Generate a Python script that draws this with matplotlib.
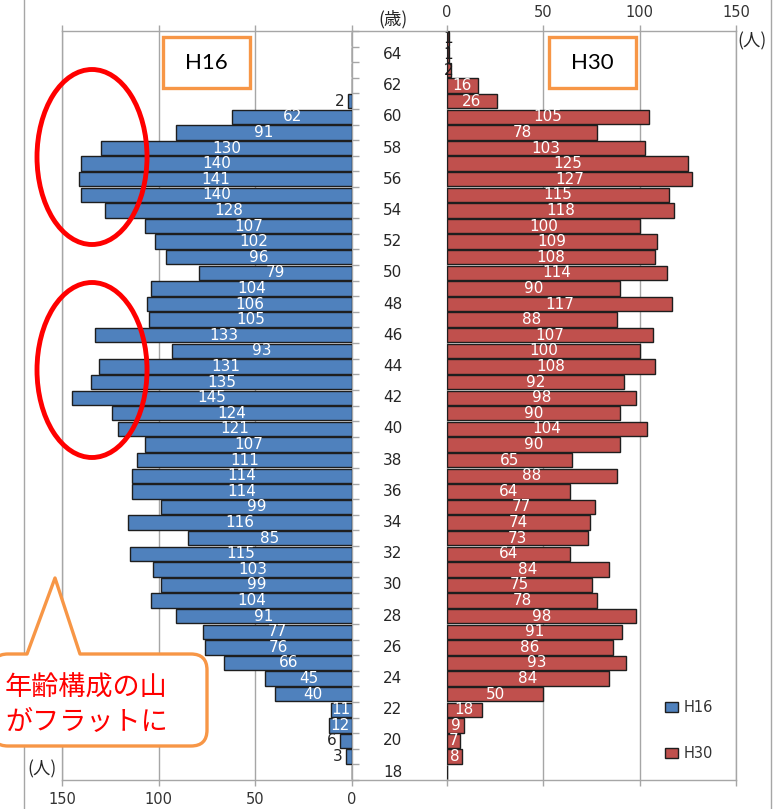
import matplotlib
matplotlib.use("Agg")
import matplotlib.pyplot as plt
import numpy as np
from matplotlib.patches import Ellipse, Rectangle, PathPatch, Patch
from matplotlib.path import Path
from matplotlib.lines import Line2D

plt.rcParams['font.family'] = ['DejaVu Sans', 'Noto Sans CJK JP']

# ---- data -------------------------------------------------------------
ages = list(range(18, 66))
h16 = [0, 3, 6, 12, 11, 40, 45, 66, 76, 77,
       91, 104, 99, 103, 115, 85, 116, 99, 114, 114,
       111, 107, 121, 124, 145, 135, 131, 93, 133, 105,
       106, 104, 79, 96, 102, 107, 128, 140, 141, 140,
       130, 91, 62, 2, 0, 0, 0, 0]
h30 = [0, 8, 7, 9, 18, 50, 84, 93, 86, 91,
       98, 78, 75, 84, 64, 73, 74, 77, 64, 88,
       65, 90, 104, 90, 98, 92, 108, 100, 107, 88,
       117, 90, 114, 108, 109, 100, 118, 115, 127, 125,
       103, 78, 105, 26, 16, 2, 1, 1]
age_labels = list(range(18, 65, 2))
x_ticks = [0, 50, 100, 150]
series_names = ['H16', 'H30']

# ---- style ------------------------------------------------------------
BLUE = '#4F81BD'
RED = '#C0504D'
EDGE = '#1E1E1E'
GRID = '#A6A6A6'
TXT = '#333333'
ORANGE = '#F79646'

W, H = 774, 809
def fx(px):
    return px / W
def fy(py):
    return 1 - py / H

TOP, BOTTOM = 31, 780
LX0, LX1 = 62, 352
RX0, RX1 = 447, 736

fig = plt.figure(figsize=(W / 100, H / 100), dpi=100)

ax_l = fig.add_axes([fx(LX0), fy(BOTTOM), fx(LX1) - fx(LX0), fy(TOP) - fy(BOTTOM)])
ax_r = fig.add_axes([fx(RX0), fy(BOTTOM), fx(RX1) - fx(RX0), fy(TOP) - fy(BOTTOM)])

for ax in (ax_l, ax_r):
    ax.set_ylim(17.5, 65.5)
    for sp in ax.spines.values():
        sp.set_color(GRID)
        sp.set_linewidth(1.0)
    ax.grid(axis='x', color=GRID, linewidth=1.0)
    ax.set_axisbelow(True)
    ax.set_xticks(x_ticks)

# left panel (H16, reversed axis)
ax_l.set_xlim(150, 0)
ax_l.tick_params(axis='x', bottom=True, top=True, labelbottom=True, labeltop=False,
                 direction='out', length=4, width=1, color=GRID,
                 labelsize=10.5, labelcolor=TXT, pad=5)
ax_l.yaxis.tick_right()
ax_l.set_yticks(np.arange(17.5, 66, 1), minor=True)
ax_l.set_yticks([])
ax_l.tick_params(axis='y', which='minor', right=True, left=False, direction='out',
                 length=5, width=1, color=GRID)
for a in age_labels:
    ax_l.text(1 + 41 / (LX1 - LX0), a, str(a), transform=ax_l.get_yaxis_transform(),
              ha='center', va='center', fontsize=11, color='#262626', clip_on=False)

# right panel (H30)
ax_r.set_xlim(0, 150)
ax_r.set_yticks([])
ax_r.tick_params(axis='x', bottom=True, top=True, labelbottom=False, labeltop=True,
                 direction='out', length=4, width=1, color=GRID,
                 labelsize=10.5, labelcolor=TXT, pad=4)

ax_l.barh(ages, h16, height=0.92, color=BLUE, edgecolor=EDGE, linewidth=1.0, zorder=3)
ax_r.barh(ages, h30, height=0.92, color=RED, edgecolor=EDGE, linewidth=1.0, zorder=3)

# value labels
for a, v in zip(ages, h16):
    if v <= 0:
        continue
    if v >= 10:
        ax_l.text(v / 2, a, str(v), ha='center', va='center', fontsize=11,
                  color='white', zorder=4)
    else:
        ax_l.text(v + 2, a, str(v), ha='right', va='center', fontsize=11,
                  color='#262626', zorder=4)
for a, v in zip(ages, h30):
    if v <= 0:
        continue
    col = 'white' if v >= 5 else '#1a1a1a'
    ax_r.text(v / 2, a, str(v), ha='center', va='center', fontsize=11,
              color=col, zorder=4)

# legend
handles = [Patch(facecolor=BLUE, edgecolor=EDGE, linewidth=1.0, label=series_names[0]),
           Patch(facecolor=RED, edgecolor=EDGE, linewidth=1.0, label=series_names[1])]
leg = ax_r.legend(handles=handles, loc='upper left',
                  bbox_to_anchor=(fx(658), fy(693)), bbox_transform=fig.transFigure,
                  frameon=False, fontsize=10.5, handlelength=0.85, handleheight=0.65,
                  handletextpad=0.4, labelspacing=2.1, borderpad=0)
for t in leg.get_texts():
    t.set_color(TXT)

# ---- overlay for frame lines, titles and annotations -----------------
ov = fig.add_axes([0, 0, 1, 1], zorder=10)
ov.set_xlim(0, W)
ov.set_ylim(H, 0)
ov.axis('off')
ov.patch.set_alpha(0)

# chart-area borders and the frame joining both panels
for x in (24, 771):
    ov.add_line(Line2D([x, x], [0, H], color=GRID, lw=1.0, zorder=1))
for y in (TOP, BOTTOM):
    ov.add_line(Line2D([LX1, RX0], [y, y], color=GRID, lw=1.0, zorder=1))

# axis unit captions
cap_font = ['Noto Sans CJK JP']
ov.text(393, 19, '(歳)', ha='center', va='center', fontsize=12.5,
        family=cap_font, color='#262626')
ov.text(752, 41, '(人)', ha='center', va='center', fontsize=12.5,
        family=cap_font, color='#262626')
ov.text(42, 769, '(人)', ha='center', va='center', fontsize=12.5,
        family=cap_font, color='#262626')

# panel title boxes
for (x0, x1), name in zip([(163, 250), (549, 636)], series_names):
    ov.add_patch(Rectangle((x0, 37), x1 - x0, 51, facecolor='white',
                           edgecolor=ORANGE, linewidth=2.4, zorder=3))
    ov.text((x0 + x1) / 2, 63, name, ha='center', va='center', fontsize=16,
            family=['Lato'], color='black', zorder=4)

# highlight ellipses
for cy in (157, 370):
    ov.add_patch(Ellipse((92, cy), 110, 175, facecolor='none', edgecolor='#FF0000',
                         linewidth=3.5, zorder=3))

# callout
x0, x1, y0, y1, r = -8, 207, 654, 746, 16
verts = [(x0 + r, y0), (27, y0), (55, 578), (80, y0), (x1 - r, y0),
         (x1, y0), (x1, y0 + r),
         (x1, y1 - r),
         (x1, y1), (x1 - r, y1),
         (x0 + r, y1),
         (x0, y1), (x0, y1 - r),
         (x0, y0 + r),
         (x0, y0), (x0 + r, y0),
         (x0 + r, y0)]
codes = [Path.MOVETO, Path.LINETO, Path.LINETO, Path.LINETO, Path.LINETO,
         Path.CURVE3, Path.CURVE3,
         Path.LINETO,
         Path.CURVE3, Path.CURVE3,
         Path.LINETO,
         Path.CURVE3, Path.CURVE3,
         Path.LINETO,
         Path.CURVE3, Path.CURVE3,
         Path.CLOSEPOLY]
ov.add_patch(PathPatch(Path(verts, codes), facecolor='white', edgecolor=ORANGE,
                       linewidth=2.4, zorder=5, joinstyle='round'))
ov.text(5, 688, '年齢構成の山', ha='left', va='center', fontsize=19.5,
        family=['Noto Sans CJK JP'], color='#FF0000', zorder=6)
ov.text(5, 722, 'がフラットに', ha='left', va='center', fontsize=19.5,
        family=['Noto Sans CJK JP'], color='#FF0000', zorder=6)

fig.savefig('out.png', dpi=100)
